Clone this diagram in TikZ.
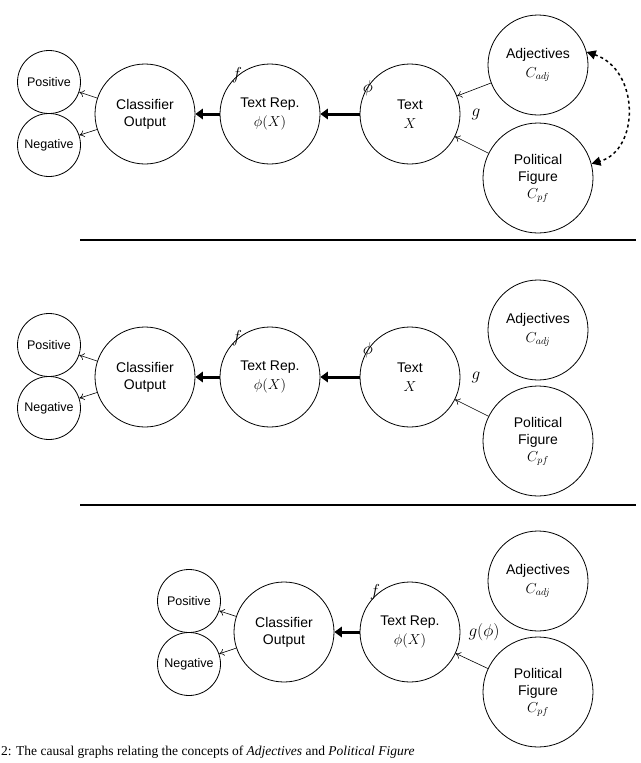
\documentclass[tikz,border=0pt]{standalone}
\usepackage{fontspec}
\setmainfont{Liberation Sans}
\newfontfamily\capfont{Liberation Serif}
\usepackage{amsmath}
\usetikzlibrary{arrows.meta}
\tikzset{%
  tipT/.tip={Triangle[angle=70:9pt]},
  big/.style={draw, circle, thick, minimum size=100pt, inner sep=0pt, align=center, font=\fontsize{14}{17}\selectfont},
  huge/.style={big, minimum size=110pt},
  small/.style={draw, circle, thick, minimum size=63pt, inner sep=0pt, font=\fontsize{12.5}{15}\selectfont},
  lbl/.style={font=\fontsize{18}{20}\selectfont},
  thin/.style={-{To[length=5pt,width=7pt]}, semithick},
  fat/.style={-tipT, line width=3pt}
}

\begin{document}
\begin{tikzpicture}[x=1pt,y=-1pt]
\useasboundingbox (0,0) rectangle (640,763);
% top graph
\node[small] (pos1) at (49,82) {Positive};
\node[small] (neg1) at (49,145) {Negative};
\node[big] (cls1) at (145,114) {Classifier\\Output};
\node[big] (rep1) at (270,114) {Text Rep.\\[2pt]$\phi(X)$};
\node[big] (txt1) at (410,114) {Text\\[2pt]$X$};
\node[big] (adj1) at (538,65) {Adjectives\\[2pt]$C_{adj}$};
\node[huge] (pf1) at (538,178) {Political\\Figure\\$C_{pf}$};
\draw[thin] (cls1) -- (pos1);
\draw[thin] (cls1) -- (neg1);
\draw[fat] (rep1) -- (cls1);
\draw[fat] (txt1) -- (rep1);
\draw[thin] (adj1) -- (txt1);
\draw[thin] (pf1) -- (txt1);
\draw[{Triangle[length=9pt,width=9pt]}-{Triangle[length=9pt,width=9pt]}, line width=1.5pt, dashed] (adj1.15) .. controls (640,70) and (640,150) .. (pf1.15);
\node[lbl] (f1) at (237,75) {$f$};
\node[lbl] (p1) at (368,88) {$\phi$};
\node[lbl] (g1) at (476,114) {$g$};
\coordinate (la) at (80,240);
\coordinate (lb) at (636,240);
\draw[line width=1.5pt] (la) -- (lb);
% middle graph
\node[small] (pos2) at (49,345) {Positive};
\node[small] (neg2) at (49,408) {Negative};
\node[big] (cls2) at (145,377) {Classifier\\Output};
\node[big] (rep2) at (270,377) {Text Rep.\\[2pt]$\phi(X)$};
\node[big] (txt2) at (410,377) {Text\\[2pt]$X$};
\node[big] (adj2) at (538,330) {Adjectives\\[2pt]$C_{adj}$};
\node[huge] (pf2) at (538,441) {Political\\Figure\\$C_{pf}$};
\draw[thin] (cls2) -- (pos2);
\draw[thin] (cls2) -- (neg2);
\draw[fat] (rep2) -- (cls2);
\draw[fat] (txt2) -- (rep2);
\draw[thin] (pf2) -- (txt2);
\node[lbl] (f2) at (237,338) {$f$};
\node[lbl] (p2) at (368,350) {$\phi$};
\node[lbl] (g2) at (476,377) {$g$};
\coordinate (lc) at (80,505);
\coordinate (ld) at (636,505);
\draw[line width=1.5pt] (lc) -- (ld);
% bottom graph
\node[small] (pos3) at (189,601) {Positive};
\node[small] (neg3) at (189,664) {Negative};
\node[big] (cls3) at (284,632) {Classifier\\Output};
\node[big] (rep3) at (410,632) {Text Rep.\\[2pt]$\phi(X)$};
\node[big] (adj3) at (538,581) {Adjectives\\[2pt]$C_{adj}$};
\node[huge] (pf3) at (538,692) {Political\\Figure\\$C_{pf}$};
\draw[thin] (cls3) -- (pos3);
\draw[thin] (cls3) -- (neg3);
\draw[fat] (rep3) -- (cls3);
\draw[thin] (pf3) -- (rep3);
\node[lbl] (f3) at (375,592) {$f$};
\node[lbl] (g3) at (484,632) {$g(\phi)$};
% caption
\node[anchor=west, inner sep=0pt, font=\capfont\fontsize{13.5}{16}\selectfont] (cap) at (1,752) {2: The causal graphs relating the concepts of \emph{Adjectives} and \emph{Political Figure}};
\end{tikzpicture}
\end{document}
